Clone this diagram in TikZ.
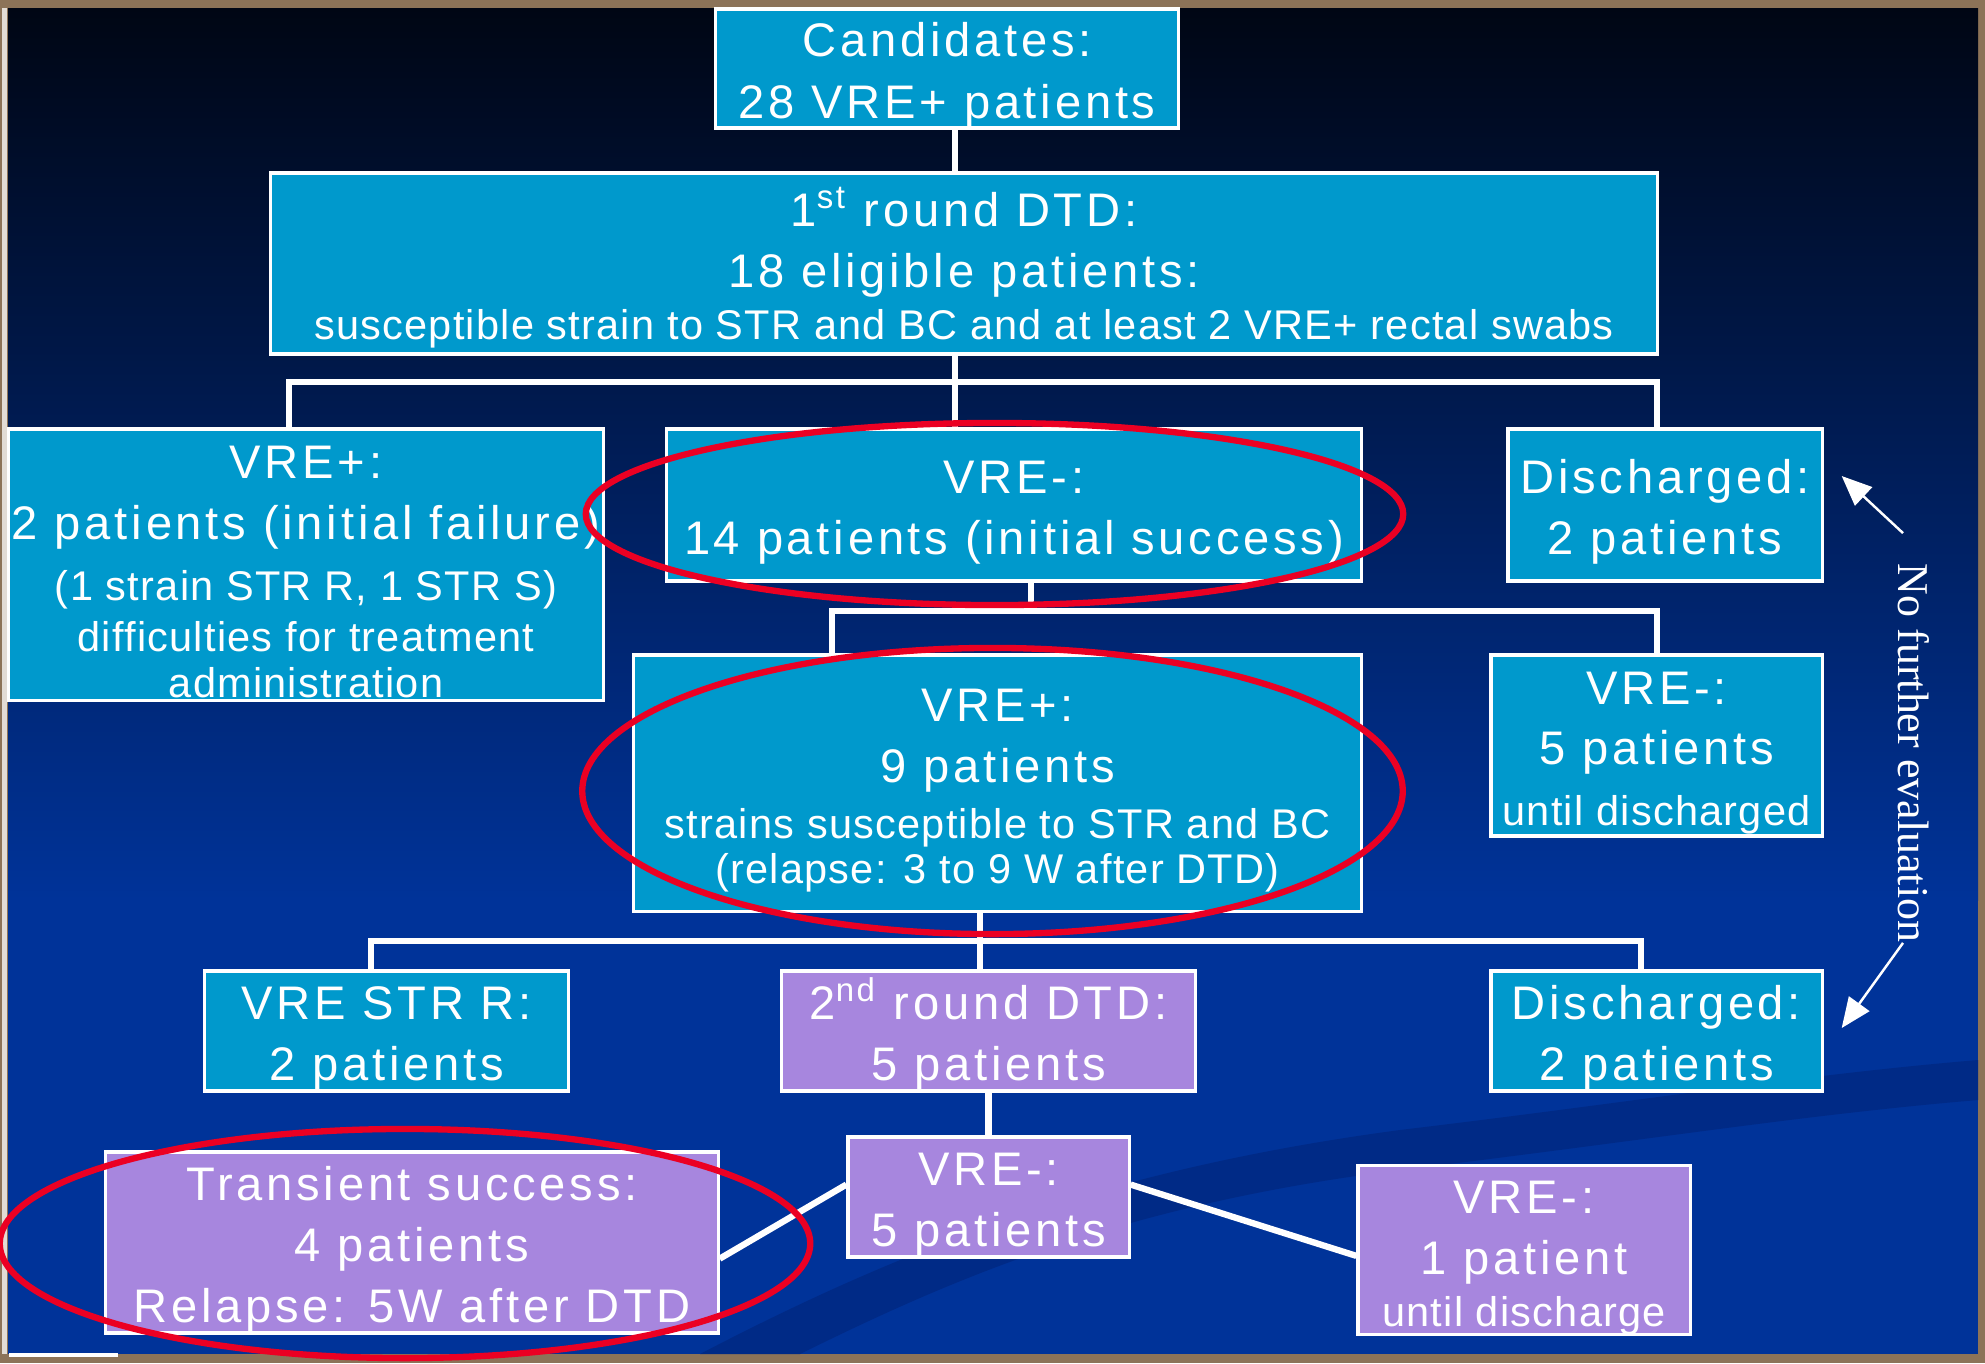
\documentclass[tikz,border=0pt]{standalone}
\usepackage{fontspec}
\setmainfont[LetterSpace=8]{Liberation Sans}
\newfontfamily\smallfamily[LetterSpace=3]{Liberation Sans}
\newfontfamily\notefont{Liberation Serif}
\usetikzlibrary{arrows.meta, calc, positioning}
\definecolor{boxblue}{RGB}{0,153,204}
\definecolor{boxlilac}{RGB}{167,134,222}
\definecolor{ringred}{RGB}{235,0,35}
\definecolor{slideblue}{RGB}{0,51,153}
\definecolor{slidemid}{RGB}{0,44,136}
\definecolor{slidetop}{RGB}{0,6,20}
\definecolor{swoosh}{RGB}{0,42,134}
\definecolor{slideframe}{RGB}{140,115,88}
\newcommand{\smalltext}{\smallfamily\fontsize{11.8}{13.4}\selectfont}
\newcommand{\topgap}{\rule{0pt}{13.6pt}}

\begin{document}
\begin{tikzpicture}[x=0.01cm, y=-0.01cm,
    every node/.style={font=\fontsize{13.4}{17.4}\selectfont, text=white},
    stage/.style={rectangle, draw=white, line width=0.9pt, fill=boxblue, align=center, inner sep=0pt},
    stage2/.style={stage, fill=boxlilac},
    link/.style={draw=white, line width=1.8pt},
    ring/.style={draw=ringred, line width=1.8pt},
    note/.style={draw=white, line width=0.7pt, -{Triangle[length=0.3cm, width=0.25cm]}}
]
    \useasboundingbox (0,0) rectangle (1985,1363);
    \fill[slideframe] (0,0) rectangle (1985,1363);
    \shade[top color=slidetop, middle color=slidemid, bottom color=slideblue] (8,8) rectangle (1978,900);
    \fill[slideblue] (8,899) rectangle (1978,1354);
    \fill[white!75!slideframe] (2,8) rectangle (7,1354);
    \fill[white] (9,1353) rectangle (118,1357);
    \fill[swoosh] (700,1354) .. controls (900,1250) and (1100,1170) .. (1400,1130) .. controls (1650,1100) and (1800,1075) .. (1978,1060)
        -- (1978,1100) .. controls (1800,1115) and (1650,1140) .. (1400,1170) .. controls (1120,1205) and (950,1280) .. (800,1354) -- cycle;

    \node[stage, minimum width=4.62cm, minimum height=1.19cm] (candidates) at (947,68.5) {\topgap Candidates:\\28 VRE+ patients};
    \node[stage, minimum width=13.86cm, minimum height=1.81cm] (round1) at (964,263.5) {\topgap 1\textsuperscript{st} round DTD:\\18 eligible patients:\\[-2.6pt]\smalltext susceptible strain to STR and BC and at least 2 VRE+ rectal swabs};
    \node[stage, minimum width=5.94cm, minimum height=2.71cm] (failure) at (306,564.5) {\topgap VRE+:\\2 patients (initial failure)\\\smalltext (1 strain STR R, 1 STR S)\\[-2.9pt]\smalltext difficulties for treatment\\[-4.3pt]\smalltext administration};
    \node[stage, minimum width=6.94cm, minimum height=1.52cm] (success) at (1014,505) {\topgap VRE-:\\14 patients (initial success)};
    \node[stage, minimum width=3.14cm, minimum height=1.52cm] (discharged1) at (1665,505) {\topgap Discharged:\\2 patients};
    \node[stage, minimum width=7.27cm, minimum height=2.56cm] (relapse) at (997.5,783) {\topgap VRE+:\\9 patients\\[-1.5pt]\smalltext strains susceptible to STR and BC\\[-4.6pt]\smalltext (relapse: 3 to 9 W after DTD)};
    \node[stage, minimum width=3.31cm, minimum height=1.81cm] (negative) at (1656.5,745.5) {\topgap VRE-:\\[-0.6pt]5 patients\\\smalltext until discharged};
    \node[stage, minimum width=3.63cm, minimum height=1.2cm] (strR) at (386.5,1031) {\topgap VRE STR R:\\2 patients};
    \node[stage2, minimum width=4.13cm, minimum height=1.2cm] (round2) at (988.5,1031) {\topgap 2\textsuperscript{nd} round DTD:\\5 patients};
    \node[stage, minimum width=3.31cm, minimum height=1.2cm] (discharged2) at (1656.5,1031) {\topgap Discharged:\\2 patients};
    \node[stage2, minimum width=2.81cm, minimum height=1.2cm] (negative2) at (988.5,1197) {\topgap VRE-:\\5 patients};
    \node[stage2, minimum width=6.12cm, minimum height=1.81cm] (transient) at (412,1242.5) {\topgap Transient success:\\4 patients\\Relapse: 5W after DTD};
    \node[stage2, minimum width=3.32cm, minimum height=1.66cm] (negative3) at (1524,1250) {\topgap VRE-:\\1 patient\\[-2.6pt]\smalltext until discharge};

    \coordinate (trunk1) at (955,382);
    \coordinate (left1) at (289,382);
    \coordinate (right1) at (1657,382);
    \coordinate (trunk2) at (1031,611);
    \coordinate (left2) at (832,611);
    \coordinate (right2) at (1657,611);
    \coordinate (trunk3) at (980,941);
    \coordinate (left3) at (371,941);
    \coordinate (right3) at (1641,941);

    \draw[link] (trunk1 |- candidates.south) -- (trunk1 |- round1.north);
    \draw[link] (trunk1 |- round1.south) -- (trunk1 |- success.north);
    \draw[link] (left1 |- failure.north) -- (left1) -- (right1) -- (right1 |- discharged1.north);
    \draw[link] (trunk2 |- success.south) -- (trunk2);
    \draw[link] (left2 |- relapse.north) -- (left2) -- (right2) -- (right2 |- negative.north);
    \draw[link] (trunk3 |- relapse.south) -- (trunk3 |- round2.north);
    \draw[link] (left3 |- strR.north) -- (left3) -- (right3) -- (right3 |- discharged2.north);
    \draw[link] (round2.south) -- (negative2.north);
    \draw[link] (negative2.175) -- (transient.-3);
    \draw[link] (negative2.5) -- (negative3.182);

    \draw[ring] (994.5,514) ellipse [x radius=4.085cm, y radius=0.91cm];
    \draw[ring] (992.5,791) ellipse [x radius=4.1cm, y radius=1.43cm];
    \draw[ring] (405,1243.5) ellipse [x radius=4.05cm, y radius=1.145cm];

    \node[font=\notefont\fontsize{12.5}{15}\selectfont, rotate=-90, inner sep=0pt] (nfe) at (1914,753) {No further evaluation};
    \draw[note] ($(nfe.west)+(-11,-30)$) -- ($(discharged1.east)+(18,-29)$);
    \draw[note] ($(nfe.east)+(-11,0)$) -- ($(discharged2.east)+(18,-3)$);
\end{tikzpicture}
\end{document}
